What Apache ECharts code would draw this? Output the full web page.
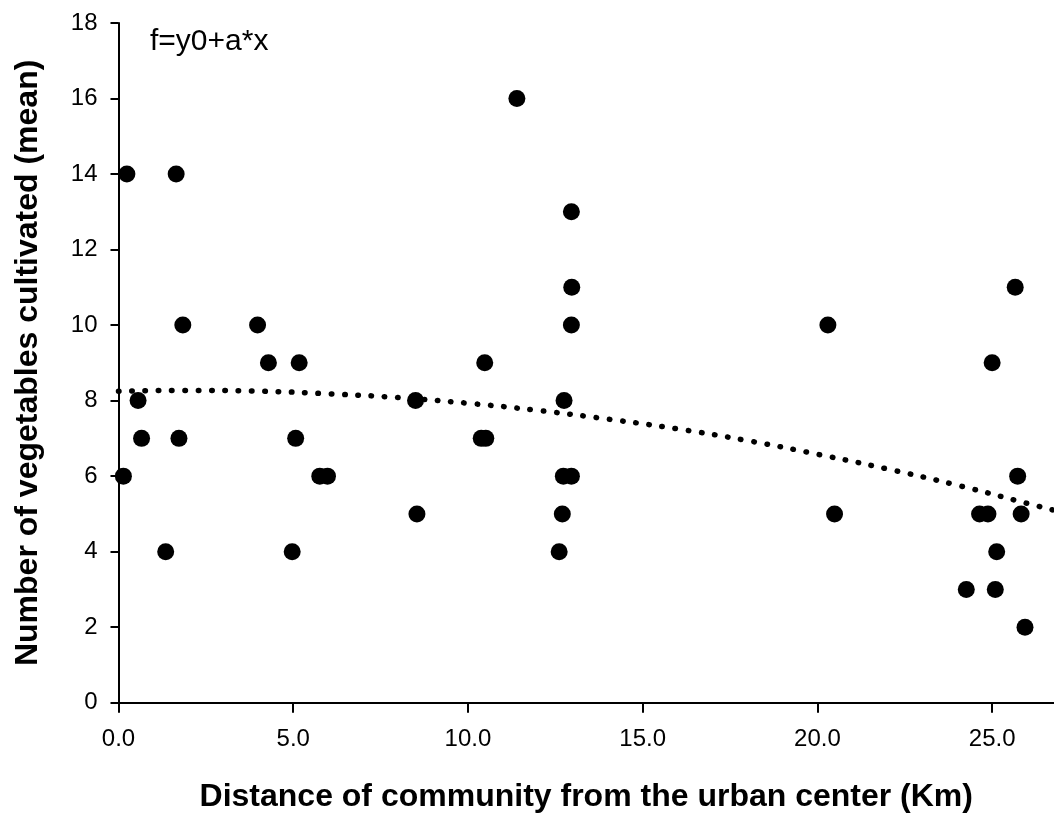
<!DOCTYPE html>
<html>
<head>
<meta charset="utf-8">
<script src="https://cdn.jsdelivr.net/npm/echarts@6/dist/echarts.min.js"></script>
<style>
  html, body { margin: 0; padding: 0; background: #fff; }
  #chart { width: 1054px; height: 814px; }
</style>
</head>
<body>
<div id="chart"></div>
<script>
// observed points: distance (km) and mean number of vegetables
const distance = [0.24, 1.65, 11.4, 12.96, 12.97, 25.66, 1.84, 3.98, 12.96, 20.3,
  4.29, 5.17, 10.48, 25.0, 0.56, 8.5, 12.75, 0.66, 1.73, 5.07, 10.38, 10.51,
  0.14, 5.76, 5.98, 12.73, 12.96, 25.73, 8.54, 12.7, 20.49, 24.64, 24.88, 25.83,
  1.35, 4.97, 12.61, 25.13, 24.26, 25.09, 25.94]
const vegetables = [14, 14, 16, 13, 11, 11, 10, 10, 10, 10,
  9, 9, 9, 9, 8, 8, 8, 7, 7, 7, 7, 7,
  6, 6, 6, 6, 6, 6, 5, 5, 5, 5, 5, 5,
  4, 4, 4, 4, 3, 3, 2]

// fitted curve
const fitX = [0, 2, 4, 6, 8, 10, 12, 14, 16, 18, 20, 22, 24, 26, 26.8]
const fitY = [8.25, 8.27, 8.25, 8.18, 8.08, 7.93, 7.74, 7.51, 7.25, 6.94, 6.58, 6.19, 5.76, 5.28, 5.09]

const xTicks = [0, 5, 10, 15, 20, 25]
const xTitle = 'Distance of community from the urban center (Km)'
const yTitle = 'Number of vegetables cultivated (mean)'
const fitLabel = 'f=y0+a*x'

const font = '"Liberation Sans", Arial, sans-serif'

const chart = echarts.init(document.getElementById('chart'))

chart.setOption({
  animation: false,
  backgroundColor: '#fff',
  grid: {
    left: 118.5,
    right: 0,
    top: 23,
    bottom: 111.3,
    outerBoundsMode: 'none'
  },
  xAxis: {
    type: 'value',
    min: 0,
    max: 26.77,
    interval: 5,
    splitLine: { show: false },
    axisLine: { lineStyle: { color: '#000', width: 2 } },
    axisTick: { length: 10, lineStyle: { color: '#000', width: 2 }, customValues: xTicks },
    axisLabel: {
      color: '#000',
      fontFamily: font,
      fontSize: 24,
      margin: 25,
      customValues: xTicks,
      formatter: v => v.toFixed(1)
    },
    name: xTitle,
    nameLocation: 'middle',
    nameGap: 78,
    nameTextStyle: { color: '#000', fontFamily: font, fontSize: 32, fontWeight: 'bold' }
  },
  yAxis: {
    type: 'value',
    min: 0,
    max: 18,
    interval: 2,
    splitLine: { show: false },
    axisLine: { lineStyle: { color: '#000', width: 2 } },
    axisTick: { length: 8, lineStyle: { color: '#000', width: 2 } },
    axisLabel: { color: '#000', fontFamily: font, fontSize: 24, margin: 21 },
    name: yTitle,
    nameLocation: 'middle',
    nameGap: 74,
    nameTextStyle: { color: '#000', fontFamily: font, fontSize: 32, fontWeight: 'bold' }
  },
  graphic: [{
    type: 'text',
    left: 150,
    top: 27,
    style: { text: fitLabel, fill: '#000', font: '30px ' + font }
  }],
  series: [
    {
      type: 'line',
      data: fitX.map((x, i) => [x, fitY[i]]),
      smooth: true,
      symbol: 'none',
      lineStyle: { color: '#000', width: 5.5, type: [0.5, 12.8], cap: 'round', opacity: 1 },
      z: 2
    },
    {
      type: 'scatter',
      data: distance.map((x, i) => [x, vegetables[i]]),
      symbol: 'circle',
      symbolSize: 17,
      itemStyle: { color: '#000', opacity: 1 },
      z: 3
    }
  ]
})
</script>
</body>
</html>
